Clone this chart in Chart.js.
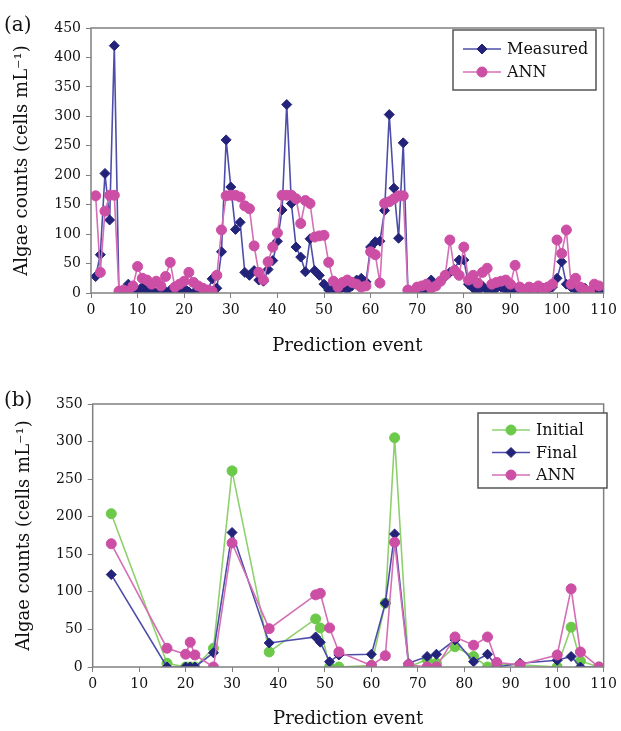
<!DOCTYPE html>
<html>
<head>
<meta charset="utf-8">
<script src="https://cdn.jsdelivr.net/npm/chart.js@4.4.1/dist/chart.umd.min.js"></script>
<style>
  body { margin: 0; background: #fff; }
  #wrap { position: relative; width: 621px; height: 731px; }
  #wrap canvas { position: absolute; left: 0; }
</style>
</head>
<body>
<div id="wrap">
  <canvas id="chartA" width="621" height="365" style="top:0"></canvas>
  <canvas id="chartB" width="621" height="366" style="top:365px"></canvas>
</div>
<script>
// panel (a): measured vs ANN for every prediction event
var eventsA = [1,2,3,4,5,6,7,8,9,10,11,12,13,14,15,16,17,18,19,20,
  21,22,23,24,25,26,27,28,29,30,31,32,33,34,35,36,37,38,39,40,
  41,42,43,44,45,46,47,48,49,50,51,52,53,54,55,56,57,58,59,60,
  61,62,63,64,65,66,67,68,69,70,71,72,73,74,75,76,77,78,79,80,
  81,82,83,84,85,86,87,88,89,90,91,92,93,94,95,96,97,98,99,100,
  101,102,103,104,105,106,107,108,109];
var measuredA = [28,65,203,124,420,0,3,15,5,2,10,3,5,0,3,2,5,0,3,8,
  2,0,5,3,2,24,8,70,260,180,108,120,35,30,38,22,20,40,55,88,
  141,320,152,78,61,36,92,38,30,15,5,8,3,10,5,12,22,25,19,78,
  87,88,140,303,178,93,255,5,3,0,2,8,22,15,20,28,35,40,56,56,
  15,8,3,12,5,3,8,10,5,3,8,5,3,0,5,3,8,5,10,25,
  53,15,10,5,3,8,2,5,3];
var annA = [165,35,139,166,166,3,5,3,12,45,25,22,15,20,12,28,52,10,15,20,
  35,18,12,8,5,3,30,107,165,166,166,163,148,143,80,35,22,53,78,102,
  166,166,166,160,118,157,152,95,97,98,52,20,10,18,22,18,15,10,12,70,
  65,17,152,155,160,165,165,5,3,10,12,15,8,12,20,30,90,38,30,78,
  22,30,17,35,42,15,18,20,22,15,47,10,5,10,8,12,5,10,15,90,
  67,107,15,25,10,5,3,15,12];
var yTicksA = [0,50,100,150,200,250,300,350,400,450];

// panel (b): initial / final / ANN for the selected events
var eventsB = [4,16,20,21,22,26,30,38,48,49,51,53,60,63,65,68,72,74,78,82,85,87,92,100,103,105,109];
var initialB = [204,5,0,0,0,25,261,20,64,52,0,0,2,85,305,0,10,5,27,14,0,3,3,0,53,8,0];
var finalB   = [123,0,0,0,0,19,179,32,40,33,7,16,17,85,177,5,14,17,36,7,17,0,5,9,14,0,0];
var annB     = [164,25,17,33,16,0,165,51,96,98,52,20,2,15,166,3,0,0,40,29,40,6,3,16,104,20,0];
var yTicksB = [0,50,100,150,200,250,300,350];
var xTicks = [0,10,20,30,40,50,60,70,80,90,100,110];

var SERIF = '"DejaVu Serif", serif';
var NAVY = '#23237a', NAVY_LINE = '#4e4eaa';
var PINK = '#cc4ea5', PINK_LINE = '#d46fb6';
var GREEN = '#6cc94a', GREEN_LINE = '#8ed06e';

function pts(xs, ys) {
  return xs.map(function (x, i) { return { x: x, y: ys[i] }; });
}

function series(label, data, line, mark, style, r, order) {
  return {
    label: label, data: data, order: order,
    borderColor: line, borderWidth: 1.6,
    pointStyle: style, pointRadius: r, pointHoverRadius: r,
    pointBackgroundColor: mark, pointBorderColor: mark, pointBorderWidth: 1,
    tension: 0
  };
}

var framePlugin = {
  id: 'frame',
  afterDraw: function (chart, args, opts) {
    var ctx = chart.ctx, a = chart.chartArea;
    ctx.save();
    ctx.strokeStyle = '#808080';
    ctx.lineWidth = 1.5;
    ctx.strokeRect(a.left, a.top, a.right - a.left, a.bottom - a.top);

    ctx.fillStyle = '#111';
    ctx.font = '20px ' + SERIF;
    ctx.textBaseline = 'middle';
    ctx.textAlign = 'left';
    ctx.fillText(opts.label, 4, opts.labelY);

    var L = opts.legend;
    ctx.fillStyle = '#fff';
    ctx.fillRect(L.x, L.y, L.w, L.h);
    ctx.strokeStyle = '#555';
    ctx.lineWidth = 1.5;
    ctx.strokeRect(L.x, L.y, L.w, L.h);
    L.items.forEach(function (idx, i) {
      var ds = chart.data.datasets[idx];
      var y = L.y + L.first + i * L.step;
      var x0 = L.x + L.pad, x1 = x0 + 38;
      ctx.strokeStyle = ds.borderColor;
      ctx.lineWidth = ds.borderWidth;
      ctx.beginPath(); ctx.moveTo(x0, y); ctx.lineTo(x1, y); ctx.stroke();
      ctx.fillStyle = ds.pointBackgroundColor;
      ctx.strokeStyle = ds.pointBorderColor;
      ctx.lineWidth = 1;
      Chart.helpers.drawPoint(ctx, { pointStyle: ds.pointStyle, radius: ds.pointRadius, borderWidth: 1 }, (x0 + x1) / 2, y);
      ctx.fillStyle = '#111';
      ctx.font = '16px ' + SERIF;
      ctx.fillText(ds.label, x1 + 6, y + 1);
    });
    ctx.restore();
  }
};

function axes(yMax, yTicks, xHeight, titleBottom) {
  var tickFont = { family: SERIF, size: 14 };
  var titleFont = { family: SERIF, size: 18 };
  return {
    x: {
      type: 'linear', min: 0, max: 110,
      afterBuildTicks: function (s) { s.ticks = xTicks.map(function (v) { return { value: v }; }); },
      afterFit: function (s) { s.height = xHeight; },
      grid: { display: true, drawOnChartArea: false, drawTicks: true, tickLength: 5, color: '#808080' },
      border: { display: false },
      ticks: { color: '#111', font: tickFont, padding: 4, maxRotation: 0 },
      title: { display: true, text: 'Prediction event', color: '#111', font: titleFont, padding: { top: 0, bottom: titleBottom } }
    },
    y: {
      type: 'linear', min: 0, max: yMax,
      afterBuildTicks: function (s) { s.ticks = yTicks.map(function (v) { return { value: v }; }); },
      afterFit: function (s) { s.width = 91; },
      grid: { display: true, drawOnChartArea: false, drawTicks: true, tickLength: 5, color: '#808080' },
      border: { display: false },
      ticks: { color: '#111', font: tickFont, padding: 5 },
      title: { display: true, text: 'Algae counts (cells mL\u207B\u00B9)', color: '#111', font: titleFont, padding: { top: 12, bottom: 0 } }
    }
  };
}

function baseOptions(pad, scales, frame) {
  return {
    responsive: false, animation: false,
    layout: { padding: pad },
    scales: scales,
    plugins: { legend: { display: false }, tooltip: { enabled: false }, frame: frame }
  };
}

new Chart(document.getElementById('chartA'), {
  type: 'line',
  data: {
    datasets: [
      series('Measured', pts(eventsA, measuredA), NAVY_LINE, NAVY, 'rectRot', 5, 1),
      series('ANN', pts(eventsA, annA), PINK_LINE, PINK, 'circle', 5, 0)
    ]
  },
  options: baseOptions({ left: 0, right: 15, top: 28, bottom: 0 }, axes(450, yTicksA, 72, 8), {
    label: '(a)', labelY: 26,
    legend: { x: 453, y: 30, w: 143, h: 60, pad: 10, first: 19, step: 23, items: [0, 1] }
  }),
  plugins: [framePlugin]
});

new Chart(document.getElementById('chartB'), {
  type: 'line',
  data: {
    datasets: [
      series('Initial', pts(eventsB, initialB), GREEN_LINE, GREEN, 'circle', 5, 2),
      series('Final', pts(eventsB, finalB), NAVY_LINE, NAVY, 'rectRot', 5, 1),
      series('ANN', pts(eventsB, annB), PINK_LINE, PINK, 'circle', 5, 0)
    ]
  },
  options: baseOptions({ left: 1.7, right: 15, top: 39, bottom: 0 }, axes(350, yTicksB, 64, 1), {
    label: '(b)', labelY: 36,
    legend: { x: 478, y: 48, w: 129, h: 75, pad: 14, first: 17, step: 22.5, items: [0, 1, 2] }
  }),
  plugins: [framePlugin]
});
</script>
</body>
</html>
